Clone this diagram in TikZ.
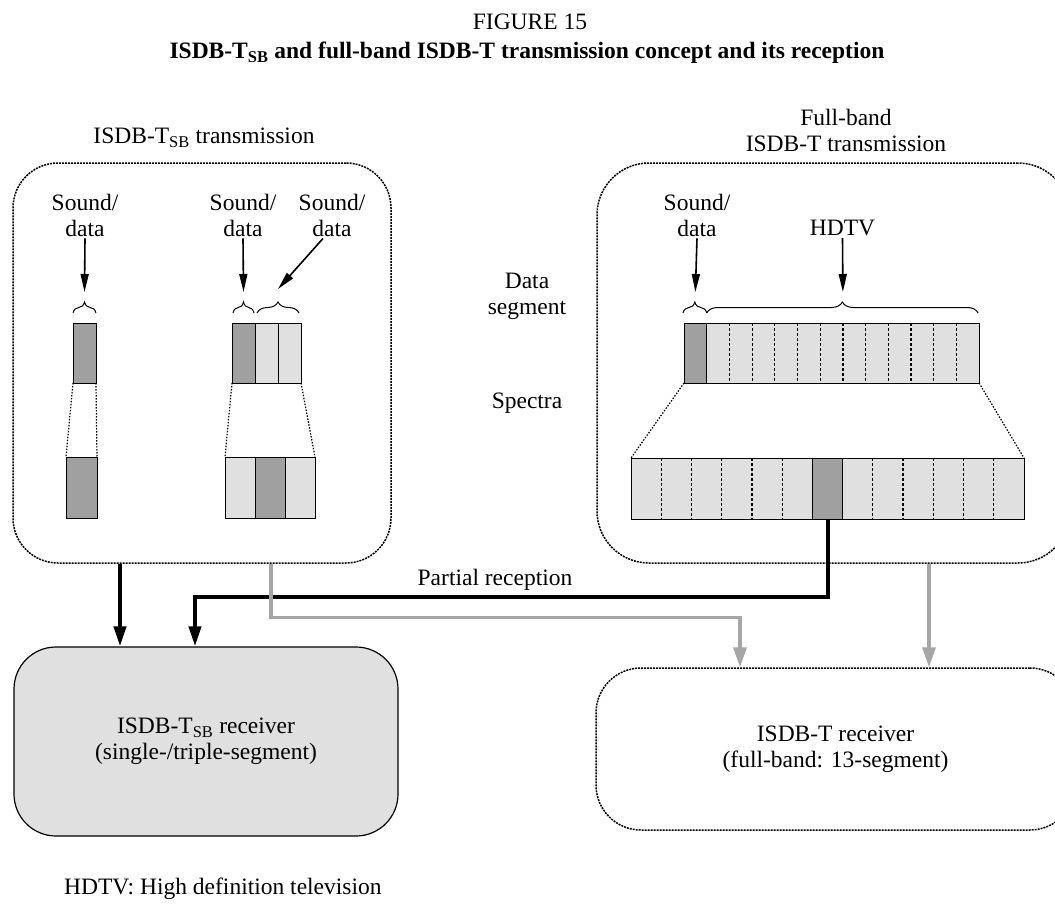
\documentclass[tikz,border=0pt]{standalone}
\usepackage{fontspec}
\setmainfont{Liberation Serif}
\usetikzlibrary{arrows.meta,positioning,decorations.pathreplacing,calc}
\definecolor{segdark}{HTML}{A0A0A0}
\definecolor{seglight}{HTML}{E0E0E0}
\definecolor{feedgrey}{HTML}{A6A6A6}

\begin{document}
\begin{tikzpicture}[
    x=1pt, y=-1pt,
    font=\fontsize{23.5}{26}\selectfont,
    txbox/.style={draw, line width=1.5pt, dash pattern=on 2pt off 1pt, rounded corners=45pt, minimum width=378pt, minimum height=400pt, inner sep=0pt},
    rxsb/.style={draw, line width=1.2pt, fill=seglight, rounded corners=42pt, minimum width=384pt, minimum height=189pt, align=center},
    rxfb/.style={draw, line width=1.5pt, dash pattern=on 2pt off 1pt, rounded corners=45pt, minimum width=479pt, minimum height=162pt, align=center},
    segd/.style={draw, line width=1pt, fill=segdark, minimum width=23pt, minimum height=60pt, inner sep=0pt, outer sep=0pt},
    segl/.style={segd, fill=seglight},
    spec/.style={minimum width=30pt, minimum height=61pt},
    bandseg/.style={fill=seglight, minimum height=60pt, inner sep=0pt, outer sep=0pt},
    sepline/.style={line width=1.2pt, dash pattern=on 3pt off 2pt},
    spread/.style={line width=1.2pt, dash pattern=on 1.5pt off 1.5pt},
    lbl/.style={align=center, inner sep=2pt},
    tbrace/.style={decorate, decoration={brace, amplitude=11pt}, line width=1pt},
    thinarrow/.style={-{Triangle[length=18pt,width=8pt]}, line width=1.6pt},
    bigarrow/.style={-{Triangle[length=20pt,width=12pt]}, line width=4pt},
    greyarrow/.style={-{Triangle[length=20pt,width=13pt]}, line width=3.2pt, color=feedgrey}
]
\useasboundingbox (0,0) rectangle (1055,905);

% titles
\node[lbl] (fig) at (530,22) {FIGURE 15};
\node[lbl, font=\fontsize{23.5}{26}\selectfont\bfseries] (ttl) at (527,53) {ISDB-T\textsubscript{SB} and full-band ISDB-T transmission concept and its reception};

% transmission boxes
\node[txbox] (tsb) at (202,363) {};
\node[txbox, minimum width=473pt, rounded corners=52pt] (tfb) at (833.5,363) {};
\node[lbl] (tsblbl) at (204,138) {ISDB-T\textsubscript{SB} transmission};
\node[lbl] (tfblbl) at (846,130) {Full-band\\ISDB-T transmission};

% single segment
\node[segd] (u1) at (84.5,353) {};
\node[segd, minimum width=31pt, minimum height=61pt] (s1) at (81.5,487.5) {};

% triple segment
\node[segd] (u2) at (243.5,353) {};
\node[segl, right=0pt of u2] (u3) {};
\node[segl, right=0pt of u3] (u4) {};
\node[segl, spec] (s2) at (240,487.5) {};
\node[segd, spec, right=0pt of s2] (s3) {};
\node[segl, spec, right=0pt of s3] (s4) {};

% full band, 13 segments
\foreach \i in {1,...,13} {
  \node[bandseg, minimum width=22.7pt] (fu\i) at ({684+(\i-0.5)*22.7},353) {};
  \node[bandseg, minimum width=30.23pt, minimum height=61pt] (fs\i) at ({631+(\i-0.5)*30.23},488.5) {};
}
\foreach \i in {3,...,13}
  \draw[sepline] (fu\i.north west) -- (fu\i.south west);
\foreach \i in {2,3,4,5,6,9,10,11,12,13}
  \draw[sepline] (fs\i.north west) -- (fs\i.south west);
\draw[line width=1pt, fill=segdark] (fu1.north west) rectangle (fu1.south east);
\draw[line width=1pt, fill=segdark] (fs7.north west) rectangle (fs7.south east);
\draw[line width=1pt] (fu1.north west) rectangle (fu13.south east);
\draw[line width=1pt] (fs1.north west) rectangle (fs13.south east);

% upper bars to spectra
\draw[spread] (u1.south west) -- (s1.north west);
\draw[spread] (u1.south east) -- (s1.north east);
\draw[spread] (u2.south west) -- (s2.north west);
\draw[spread] (u4.south east) -- (s4.north east);
\draw[spread] (fu1.south west) -- (fs1.north west);
\draw[spread] (fu13.south east) -- (fs13.north east);

\node[lbl] (dseg) at (527,296) {Data\\segment};
\node[lbl] (spectra) at (527,403) {Spectra};

% braces
\draw[tbrace] ([yshift=10pt]u1.north west) -- ([yshift=10pt]u1.north east);
\draw[tbrace] ([yshift=10pt,xshift=1pt]u2.north west) -- ([yshift=10pt,xshift=-1pt]u2.north east);
\draw[tbrace] ([yshift=10pt,xshift=2pt]u3.north west) -- ([yshift=10pt,xshift=-2pt]u4.north east);
\draw[tbrace] ([yshift=10pt,xshift=-1pt]fu1.north west) -- ([yshift=10pt]fu1.north east);
\draw[tbrace] ([yshift=10pt]fu2.north west) -- ([yshift=10pt,xshift=-1pt]fu13.north east);
\coordinate (ptr1) at ([yshift=31pt]u1.north);
\coordinate (ptr2) at ([yshift=31pt]u2.north);
\coordinate (ptr3) at ([yshift=34pt]u4.north west);
\coordinate (ptr4) at ([yshift=31pt]fu1.north);
\coordinate (ptr5) at ([yshift=31pt]$(fu2.north west)!0.5!(fu13.north east)$);

% labels and pointers
\node[lbl] (snd1) at (85,215) {Sound/\\data};
\node[lbl] (snd2) at (243,215) {Sound/\\data};
\node[lbl] (snd3) at (332,215) {Sound/\\data};
\node[lbl] (snd4) at (697,215) {Sound/\\data};
\node[lbl] (hdtv) at (842.5,228) {HDTV};
\draw[thinarrow] (snd1.south) -- (ptr1);
\draw[thinarrow] (snd2.south) -- (ptr2);
\draw[thinarrow] ([xshift=-9pt]snd3.south) -- (ptr3);
\draw[thinarrow] (snd4.south) -- (ptr4);
\draw[thinarrow] (hdtv.south) -- (ptr5);

% receivers
\node[rxsb] (rxsb) at (206,741.5) {ISDB-T\textsubscript{SB} receiver\\(single-/triple-segment)};
\node[rxfb] (rxfb) at (835.5,749) {ISDB-T receiver\\(full-band: 13-segment)};

% reception paths
\draw[bigarrow] ([xshift=-82pt]tsb.south) -- ([xshift=-82pt]tsb.south |- rxsb.north);
\draw[bigarrow] (fs7.south) -- ++(0,78) -| ([xshift=-11pt]rxsb.north);
\node[lbl] (partial) at (495,580) {Partial reception};
\draw[greyarrow] ([xshift=69pt]tsb.south) -- ++(0,54) -| ([xshift=-95.5pt]rxfb.north);
\draw[greyarrow] ([xshift=95.5pt]tfb.south) -- ([xshift=95.5pt]tfb.south |- rxfb.north);

\node[lbl, anchor=west] (note) at (62,889) {HDTV: High definition television};
\end{tikzpicture}
\end{document}
